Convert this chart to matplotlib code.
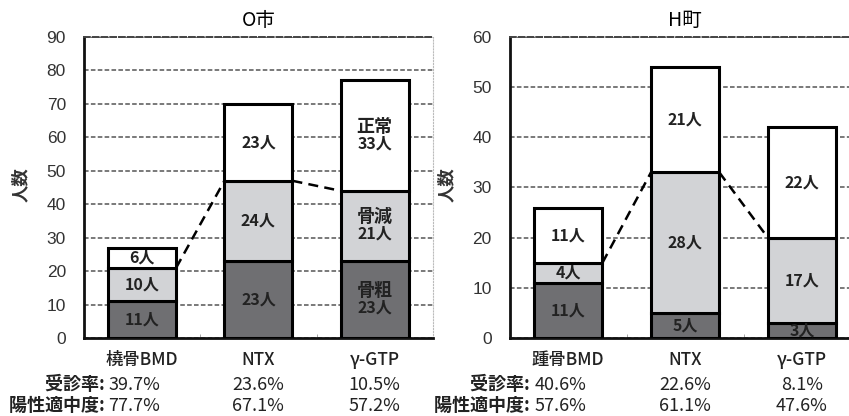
import matplotlib
matplotlib.use('Agg')
import matplotlib.pyplot as plt
import numpy as np

plt.rcParams['font.family'] = ['Noto Sans CJK JP', 'DejaVu Sans']

# O市 / H町 counts per test: bottom = 骨粗, middle = 骨減, top = 正常
o_labels = ['橈骨BMD', 'NTX', 'γ-GTP']
o_low = [11, 23, 23]
o_mid = [10, 24, 21]
o_norm = [6, 23, 33]
o_rate = ['39.7%', '23.6%', '10.5%']
o_ppv = ['77.7%', '67.1%', '57.2%']

h_labels = ['踵骨BMD', 'NTX', 'γ-GTP']
h_low = [11, 5, 3]
h_mid = [4, 28, 17]
h_norm = [11, 21, 22]
h_rate = ['40.6%', '22.6%', '8.1%']
h_ppv = ['57.6%', '61.1%', '47.6%']

DARK = '#6f6f72'
LIGHT = '#d2d3d6'
W = 0.585


def draw(ax, title, labels, low, mid, norm, rate, ppv, ymax, named_col=None):
    x = np.arange(len(labels))
    low, mid, norm = map(np.array, (low, mid, norm))
    kw = dict(width=W, edgecolor='black', linewidth=2.2, zorder=3)
    ax.bar(x, low, color=DARK, **kw)
    ax.bar(x, mid, bottom=low, color=LIGHT, **kw)
    ax.bar(x, norm, bottom=low + mid, color='white', **kw)

    # dashed links between the tops of the 骨減 segments
    tops = low + mid
    for i in range(len(x) - 1):
        ax.plot([x[i] + W / 2, x[i + 1] - W / 2], [tops[i], tops[i + 1]],
                color='black', lw=1.8, ls=(0, (4, 2.5)), zorder=4)

    segs = [(np.zeros_like(low), low, '骨粗'), (low, mid, '骨減'), (low + mid, norm, '正常')]
    for i in x:
        for base, val, name in segs:
            c = base[i] + val[i] / 2
            if named_col is not None and i == named_col:
                ax.text(i, c + 2.8 * ymax / 90, name, ha='center', va='center',
                        fontsize=13, fontweight='bold', color='#222', zorder=5)
                ax.text(i, c - 2.4 * ymax / 90, f'{val[i]}人', ha='center', va='center',
                        fontsize=11.5, fontweight='bold', color='#222', zorder=5)
            else:
                ax.text(i, c, f'{val[i]}人', ha='center', va='center',
                        fontsize=11.5, fontweight='bold', color='#222', zorder=5)

    ax.set_xlim(-0.5, len(labels) - 0.5)
    ax.set_ylim(0, ymax)
    ax.set_yticks(np.arange(0, ymax + 1, 10))
    ax.set_xticks(x)
    ax.set_xticklabels([])
    ax.set_xticks([0.5, 1.5], minor=True)
    ax.tick_params(axis='x', which='major', length=0)
    ax.tick_params(axis='x', which='minor', direction='in', length=3, color='#999')
    ax.tick_params(axis='y', length=0, pad=13, labelsize=12.5, labelcolor='#333')
    for t in ax.get_yticklabels():
        t.set_fontfamily('Liberation Sans')

    ax.yaxis.grid(True, ls=(0, (3, 1.5)), color='#555', lw=1.1)
    ax.set_axisbelow(True)
    for s in ('left', 'bottom'):
        ax.spines[s].set_linewidth(2)
        ax.spines[s].set_color('#111')
    ax.spines['top'].set_linestyle((0, (3, 1.5)))
    ax.spines['top'].set_color('#444')
    ax.spines['top'].set_linewidth(1.4)
    ax.spines['right'].set_color('#bbb')
    ax.spines['right'].set_linestyle(':')

    ax.set_title(title, fontsize=14, pad=8)
    ax.set_ylabel('人数', fontsize=12.5, fontweight='bold', color='#333')
    ax.yaxis.set_label_coords(-0.155, 0.51)

    tr = ax.get_xaxis_transform()
    for i, lab in enumerate(labels):
        ax.text(i, -0.073, lab, transform=tr, ha='center', va='center',
                fontsize=12.5, fontweight=500, color='#222')
    for row, (name, vals) in enumerate([('受診率: ', rate), ('陽性適中度: ', ppv)]):
        y = -0.155 - 0.07 * row
        x0 = -0.29
        ax.text(x0, y, name, transform=tr, ha='right', va='center',
                fontsize=13, fontweight='bold', color='#222')
        ax.text(x0, y, vals[0], transform=tr, ha='left', va='center',
                fontsize=13, color='#222')
        for i in (1, 2):
            ax.text(i, y, vals[i], transform=tr, ha='center', va='center',
                    fontsize=13, color='#222')


fig = plt.figure(figsize=(8.49, 4.16), dpi=100)
ax1 = fig.add_axes([0.0989, 0.1875, 0.411, 0.7236])
ax2 = fig.add_axes([0.6005, 0.1875, 0.413, 0.7236])

draw(ax1, 'O市', o_labels, o_low, o_mid, o_norm, o_rate, o_ppv, 90, named_col=2)
draw(ax2, 'H町', h_labels, h_low, h_mid, h_norm, h_rate, h_ppv, 60)

fig.savefig('out.png', dpi=100)
